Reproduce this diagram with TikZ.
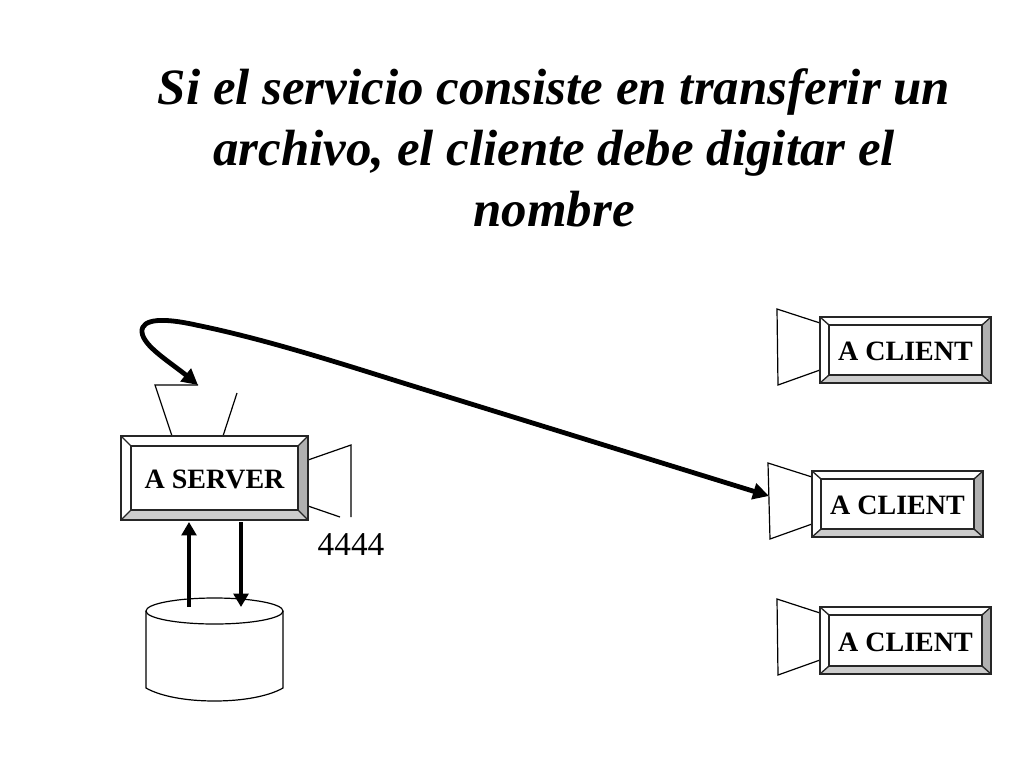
\documentclass[tikz,border=0pt]{standalone}
\usepackage{fontspec}
\setmainfont{Liberation Serif}
\usetikzlibrary{arrows.meta}
\tikzset{
  every picture/.style={x=0.75pt,y=-0.75pt},
  cone/.style={draw=black,line width=0.9pt,fill=white,line join=miter},
  conefree/.style={draw=black,line width=0.9pt},
  bevel/.style={draw=black!85,line width=1pt,line join=miter},
  label text/.style={font=\bfseries\fontsize{21}{25}\selectfont,inner sep=0pt,text=black},
  bigarrow/.style={line width=3.5pt,-{Triangle[length=10pt,width=11pt]}},
  curvearrow/.style={line width=3.6pt,{Triangle[length=12pt,width=12pt]}-{Triangle[length=12pt,width=12pt]}},
}
% #1 name, #2 left, #3 top, #4 right, #5 bottom, #6 inset x, #7 inset y, #8 text
\newcommand{\bevelbutton}[8]{%
  \fill[white] (#2,#3) rectangle (#4,#5);
  \fill[black!31] (#4,#3) -- (#4,#5) -- ({#4-#6},{#5-#7}) -- ({#4-#6},{#3+#7}) -- cycle;
  \fill[black!20] (#2,#5) -- (#4,#5) -- ({#4-#6},{#5-#7}) -- ({#2+#6},{#5-#7}) -- cycle;
  \draw[bevel] (#2,#3) rectangle (#4,#5);
  \draw[bevel] ({#2+#6},{#3+#7}) rectangle ({#4-#6},{#5-#7});
  \draw[bevel] (#2,#3) -- ({#2+#6},{#3+#7}) (#4,#3) -- ({#4-#6},{#3+#7}) (#2,#5) -- ({#2+#6},{#5-#7}) (#4,#5) -- ({#4-#6},{#5-#7});
  \node[label text] (#1) at ({(#2+#4)/2},{(#3+#5)/2+1.5}) {#8};
}
\begin{document}
\begin{tikzpicture}
\useasboundingbox (0,0) rectangle (1024,768);
\fill[white] (0,0) rectangle (1024,768);

\node[font=\bfseries\itshape\fontsize{38.2}{45.75}\selectfont,align=center,inner sep=0pt] (title) at (554,148)
  {Si el servicio consiste en transferir un\\archivo, el cliente debe digitar el\\nombre};

% client cones
\draw[cone] (820,323) -- (777,309) -- (778,385) -- (820,370);
\draw[cone] (812,477) -- (768,463) -- (770,539) -- (812,524);
\draw[cone] (820,613) -- (777,599) -- (778,675) -- (820,660);

% server cones
\draw[conefree] (172,436) -- (155,385) -- (198,385);
\draw[conefree] (223,436) -- (237,393);
\draw[conefree] (308,460) -- (351,445) -- (351,517);
\draw[conefree] (308,506) -- (340,517);

\bevelbutton{server}{121}{436}{308}{520}{10}{10}{A SERVER}
\bevelbutton{clienta}{820}{317}{991}{383}{9}{8}{A CLIENT}
\bevelbutton{clientb}{812}{471}{983}{537}{9}{8}{A CLIENT}
\bevelbutton{clientc}{820}{607}{991}{674}{9}{8}{A CLIENT}

\node[font=\fontsize{25}{30}\selectfont,inner sep=0pt] (port) at (351,545) {4444};

% disk
\draw[line width=0.9pt,fill=white] (146,611) -- (146,688) .. controls (160,696) and (185,701) .. (214.5,701) .. controls (244,701) and (269,696) .. (283,688) -- (283,611);
\draw[line width=0.9pt] (214.5,611) ellipse[x radius=68.5,y radius=13];
\coordinate (disktopl) at (189,607);
\coordinate (disktopr) at (241,607);
\coordinate (srvbotl) at (189,522);
\coordinate (srvbotr) at (241,522);
\draw[bigarrow] (disktopl) -- (srvbotl);
\draw[bigarrow] (srvbotr) -- (disktopr);

% main curve
\coordinate (srvport) at (198,385);
\coordinate (cliport) at (769,496);
\draw[curvearrow] (srvport) .. controls (170,362) and (143,346) .. (142,332)
  .. controls (141,318) and (165,318) .. (196,325)
  .. controls (260,338) and (330,360) .. (400,382) -- (cliport);
\end{tikzpicture}
\end{document}
